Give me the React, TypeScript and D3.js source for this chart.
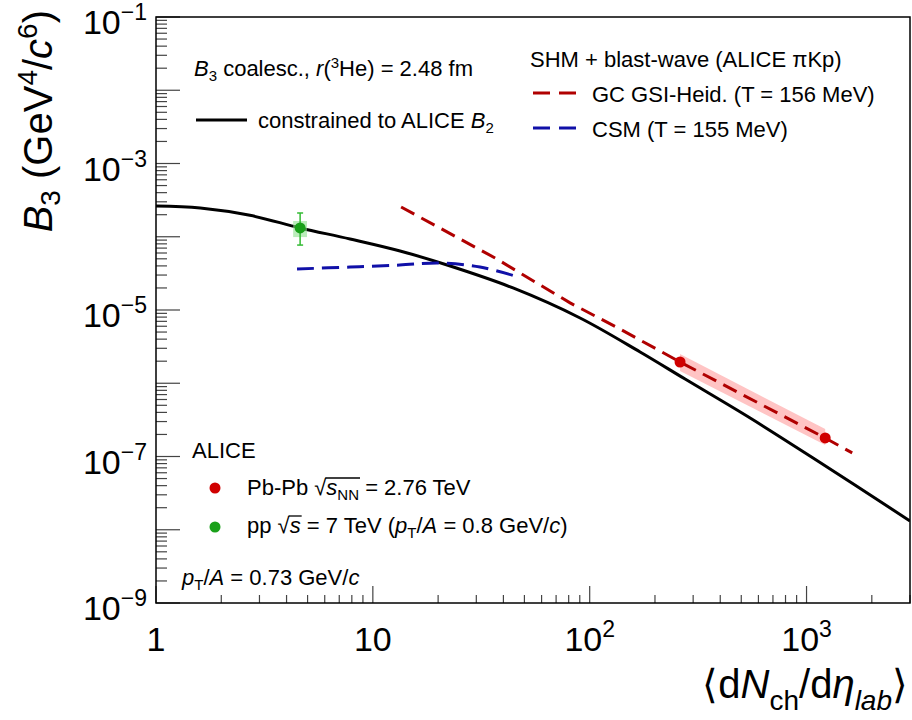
import React, { useLayoutEffect, useRef, useState } from 'react';
import * as d3 from 'd3';

// coalescence curve, constrained to ALICE B2
const coalX = [1, 1.6, 2.71, 4.62, 7.85, 13.35, 22, 44.3, 90.3, 170.8, 275.4, 549.5, 1072, 3000];
const coalY = [2.63e-4, 2.47e-4, 1.96e-4, 1.32e-4, 9.32e-5, 6.39e-5, 4.11e-5, 2.0e-5, 7.78e-6, 2.67e-6, 1.14e-6, 3.35e-7, 9.54e-8, 1.32e-8];

// SHM GC GSI-Heid. (T = 156 MeV)
const gcX = [13.5, 36.6, 81.2, 138, 261, 1219, 1624];
const gcY = [2.55e-4, 5.13e-5, 1.25e-5, 5.5e-6, 1.95e-6, 1.79e-7, 1.12e-7];

// CSM (T = 155 MeV)
const csmX = [4.47, 7.85, 13.3, 20.4, 31.2, 45.3];
const csmY = [3.63e-5, 3.86e-5, 4.11e-5, 4.38e-5, 3.86e-5, 2.91e-5];

// ALICE Pb-Pb 2.76 TeV
const pbX = [261, 1219];
const pbY = [1.95e-6, 1.79e-7];
const pbSysLo = [1.47e-6, 1.44e-7];
const pbSysHi = [2.5e-6, 2.37e-7];

// ALICE pp 7 TeV
const ppX = [4.62];
const ppY = [1.32e-4];
const ppStatLo = [7.7e-5];
const ppStatHi = [2.11e-4];
const ppSysLo = [9.9e-5];
const ppSysHi = [1.64e-4];
const ppSysXLo = [4.29];
const ppSysXHi = [4.97];

const xMajor = [1, 10, 100, 1000];
const yMajor = [1e-9, 1e-8, 1e-7, 1e-6, 1e-5, 1e-4, 1e-3, 1e-2, 1e-1];
const yLabelExp = [-1, -3, -5, -7, -9];

const FONT = '"Liberation Sans", Arial, Helvetica, sans-serif';
const FS = 22;
const SUB = 15;

type Bar = { x1: number; x2: number } | null;

const App = () => {
  const left = 156, right = 910, top = 17, bottom = 603;

  const x = d3.scaleLog().domain([1, 3000]).range([left, right]);
  const y = d3.scaleLog().domain([1e-9, 1e-1]).range([bottom, top]);

  const line = d3.line<[number, number]>()
    .x((d) => x(d[0]))
    .y((d) => y(d[1]));

  const coalPath = line.curve(d3.curveCatmullRom)(coalX.map((v, i) => [v, coalY[i]]) as [number, number][]);
  const csmPath = line.curve(d3.curveCatmullRom)(csmX.map((v, i) => [v, csmY[i]]) as [number, number][]);
  const gcPath = line.curve(d3.curveLinear)(gcX.map((v, i) => [v, gcY[i]]) as [number, number][]);

  const band = d3.area<number>()
    .x((i) => x(pbX[i]))
    .y0((i) => y(pbSysLo[i]))
    .y1((i) => y(pbSysHi[i]))(pbX.map((_, i) => i));

  // minor ticks
  const xMinor: number[] = [];
  xMajor.forEach((d) => {
    for (let k = 2; k <= 9; k++) if (d * k <= 3000) xMinor.push(d * k);
  });
  const yMinor: number[] = [];
  yMajor.slice(0, -1).forEach((d) => {
    for (let k = 2; k <= 9; k++) yMinor.push(d * k);
  });

  // sqrt overbars measured from the rendered text
  const sPb = useRef<SVGTSpanElement>(null);
  const nnPb = useRef<SVGTSpanElement>(null);
  const sPp = useRef<SVGTSpanElement>(null);
  const [barPb, setBarPb] = useState<Bar>(null);
  const [barPp, setBarPp] = useState<Bar>(null);

  useLayoutEffect(() => {
    if (sPb.current && nnPb.current) {
      const a = sPb.current.getBBox();
      const b = nnPb.current.getBBox();
      setBarPb({ x1: a.x - 1, x2: b.x + b.width + 1 });
    }
    if (sPp.current) {
      const a = sPp.current.getBBox();
      setBarPp({ x1: a.x - 1, x2: a.x + a.width + 1 });
    }
  }, []);

  const tickColor = '#444';

  return (
    <svg width={912} height={720} style={{ position: 'absolute', left: 0, top: 0, background: '#fff' }}
      fontFamily={FONT}>
      <defs>
        <clipPath id="plot">
          <rect x={left} y={top} width={right - left} height={bottom - top} />
        </clipPath>
      </defs>

      {/* ticks */}
      {xMajor.map((v) => (
        <line key={'xm' + v} x1={x(v)} x2={x(v)} y1={bottom} y2={bottom - 17} stroke={tickColor} strokeWidth={1.2} />
      ))}
      {xMinor.map((v) => (
        <line key={'xn' + v} x1={x(v)} x2={x(v)} y1={bottom} y2={bottom - 8} stroke={tickColor} strokeWidth={1.2} />
      ))}
      {yMajor.map((v) => (
        <line key={'ym' + v} x1={left} x2={left + 24} y1={y(v)} y2={y(v)} stroke={tickColor} strokeWidth={1.2} />
      ))}
      {yMinor.map((v) => (
        <line key={'yn' + v} x1={left} x2={left + 11} y1={y(v)} y2={y(v)} stroke={tickColor} strokeWidth={1.2} />
      ))}

      {/* data */}
      <g clipPath="url(#plot)">
        <path d={band || ''} fill="#ffc4c4" stroke="none" />
        <path d={coalPath || ''} fill="none" stroke="#000" strokeWidth={3} />
        <path d={gcPath || ''} fill="none" stroke="#b00000" strokeWidth={3} strokeDasharray="15,8" />
        <path d={csmPath || ''} fill="none" stroke="#1010a8" strokeWidth={3} strokeDasharray="17,8" />

        {ppX.map((v, i) => (
          <g key={'pp' + i}>
            <rect x={x(ppSysXLo[i])} width={x(ppSysXHi[i]) - x(ppSysXLo[i])}
              y={y(ppSysHi[i])} height={y(ppSysLo[i]) - y(ppSysHi[i])} fill="#8ee08e" fillOpacity={0.6} />
            <line x1={x(v)} x2={x(v)} y1={y(ppStatHi[i])} y2={y(ppStatLo[i])} stroke="#33bb33" strokeWidth={1.5} />
            <line x1={x(v) - 3} x2={x(v) + 3} y1={y(ppStatHi[i])} y2={y(ppStatHi[i])} stroke="#33bb33" strokeWidth={1.5} />
            <line x1={x(v) - 3} x2={x(v) + 3} y1={y(ppStatLo[i])} y2={y(ppStatLo[i])} stroke="#33bb33" strokeWidth={1.5} />
            <circle cx={x(v)} cy={y(ppY[i])} r={5.5} fill="#1aa01a" />
          </g>
        ))}
        {pbX.map((v, i) => (
          <circle key={'pb' + i} cx={x(v)} cy={y(pbY[i])} r={5.5} fill="#d00000" />
        ))}
      </g>

      {/* frame */}
      <rect x={left} y={top} width={right - left} height={bottom - top} fill="none" stroke="#000" strokeWidth={1.5} />

      {/* y tick labels */}
      {yLabelExp.map((e) => (
        <text key={'yl' + e} x={147} y={y(Math.pow(10, e)) + 17} textAnchor="end" fontSize={34}>
          <tspan>10</tspan>
          <tspan fontSize={23} dy={-14}>{'\u2212' + Math.abs(e)}</tspan>
        </text>
      ))}

      {/* x tick labels */}
      <text x={x(1)} y={651} textAnchor="middle" fontSize={34}>1</text>
      <text x={x(10)} y={651} textAnchor="middle" fontSize={34}>10</text>
      <text x={x(100)} y={651} textAnchor="middle" fontSize={34}>
        <tspan>10</tspan><tspan fontSize={23} dy={-14}>2</tspan>
      </text>
      <text x={x(1000)} y={651} textAnchor="middle" fontSize={34}>
        <tspan>10</tspan><tspan fontSize={23} dy={-14}>3</tspan>
      </text>

      {/* axis titles */}
      <text x={908} y={698} textAnchor="end" fontSize={40}>
        <tspan>{'\u27E8'}d</tspan>
        <tspan fontStyle="italic">N</tspan>
        <tspan fontSize={28} dy={12}>ch</tspan>
        <tspan dy={-12}>/d</tspan>
        <tspan fontStyle="italic">{'\u03B7'}</tspan>
        <tspan fontSize={28} dy={12} fontStyle="italic">lab</tspan>
        <tspan dy={-12}>{'\u27E9'}</tspan>
      </text>
      <text transform="translate(52,10) rotate(-90)" textAnchor="end" fontSize={40}>
        <tspan fontStyle="italic">B</tspan>
        <tspan fontSize={28} dy={8}>3</tspan>
        <tspan dy={-8}> (GeV</tspan>
        <tspan fontSize={28} dy={-15}>4</tspan>
        <tspan dy={15}>/</tspan>
        <tspan fontStyle="italic">c</tspan>
        <tspan fontSize={28} dy={-15}>6</tspan>
        <tspan dy={15}>)</tspan>
      </text>

      {/* legend: coalescence */}
      <text x={194} y={76} fontSize={FS}>
        <tspan fontStyle="italic">B</tspan>
        <tspan fontSize={SUB} dy={5}>3</tspan>
        <tspan dy={-5}> coalesc., </tspan>
        <tspan fontStyle="italic">r</tspan>
        <tspan>(</tspan>
        <tspan fontSize={SUB} dy={-8}>3</tspan>
        <tspan dy={8}>He) = 2.48 fm</tspan>
      </text>
      <line x1={196} x2={247} y1={120} y2={120} stroke="#000" strokeWidth={3} />
      <text x={258} y={128} fontSize={FS}>
        <tspan>constrained to ALICE </tspan>
        <tspan fontStyle="italic">B</tspan>
        <tspan fontSize={SUB} dy={5}>2</tspan>
      </text>

      {/* legend: SHM */}
      <text x={530} y={67} fontSize={FS}>SHM + blast-wave (ALICE {'\u03C0'}Kp)</text>
      <line x1={533} x2={579} y1={93} y2={93} stroke="#b00000" strokeWidth={3} strokeDasharray="17,9" />
      <text x={592} y={102} fontSize={FS}>GC GSI-Heid. (T = 156 MeV)</text>
      <line x1={533} x2={579} y1={128} y2={128} stroke="#1010a8" strokeWidth={3} strokeDasharray="17,9" />
      <text x={592} y={137} fontSize={FS}>CSM (T = 155 MeV)</text>

      {/* legend: ALICE */}
      <text x={192} y={458} fontSize={FS}>ALICE</text>
      <circle cx={215} cy={488} r={5.5} fill="#d00000" />
      <text x={247} y={495} fontSize={FS}>
        <tspan>Pb-Pb {'\u221A'}</tspan>
        <tspan ref={sPb} fontStyle="italic">s</tspan>
        <tspan ref={nnPb} fontSize={SUB} dy={5}>NN</tspan>
        <tspan dy={-5}> = 2.76 TeV</tspan>
      </text>
      {barPb && <line x1={barPb.x1} x2={barPb.x2} y1={478} y2={478} stroke="#000" strokeWidth={1.3} />}
      <circle cx={215} cy={527} r={5.5} fill="#1aa01a" />
      <text x={247} y={533} fontSize={FS}>
        <tspan>pp {'\u221A'}</tspan>
        <tspan ref={sPp} fontStyle="italic">s</tspan>
        <tspan> = 7 TeV (</tspan>
        <tspan fontStyle="italic">p</tspan>
        <tspan fontSize={SUB} dy={5}>T</tspan>
        <tspan dy={-5}>/</tspan>
        <tspan fontStyle="italic">A</tspan>
        <tspan> = 0.8 GeV/</tspan>
        <tspan fontStyle="italic">c</tspan>
        <tspan>)</tspan>
      </text>
      {barPp && <line x1={barPp.x1} x2={barPp.x2} y1={516} y2={516} stroke="#000" strokeWidth={1.3} />}
      <text x={182} y={585} fontSize={FS}>
        <tspan fontStyle="italic">p</tspan>
        <tspan fontSize={SUB} dy={5}>T</tspan>
        <tspan dy={-5}>/</tspan>
        <tspan fontStyle="italic">A</tspan>
        <tspan> = 0.73 GeV/</tspan>
        <tspan fontStyle="italic">c</tspan>
      </text>
    </svg>
  );
};

export default App;
